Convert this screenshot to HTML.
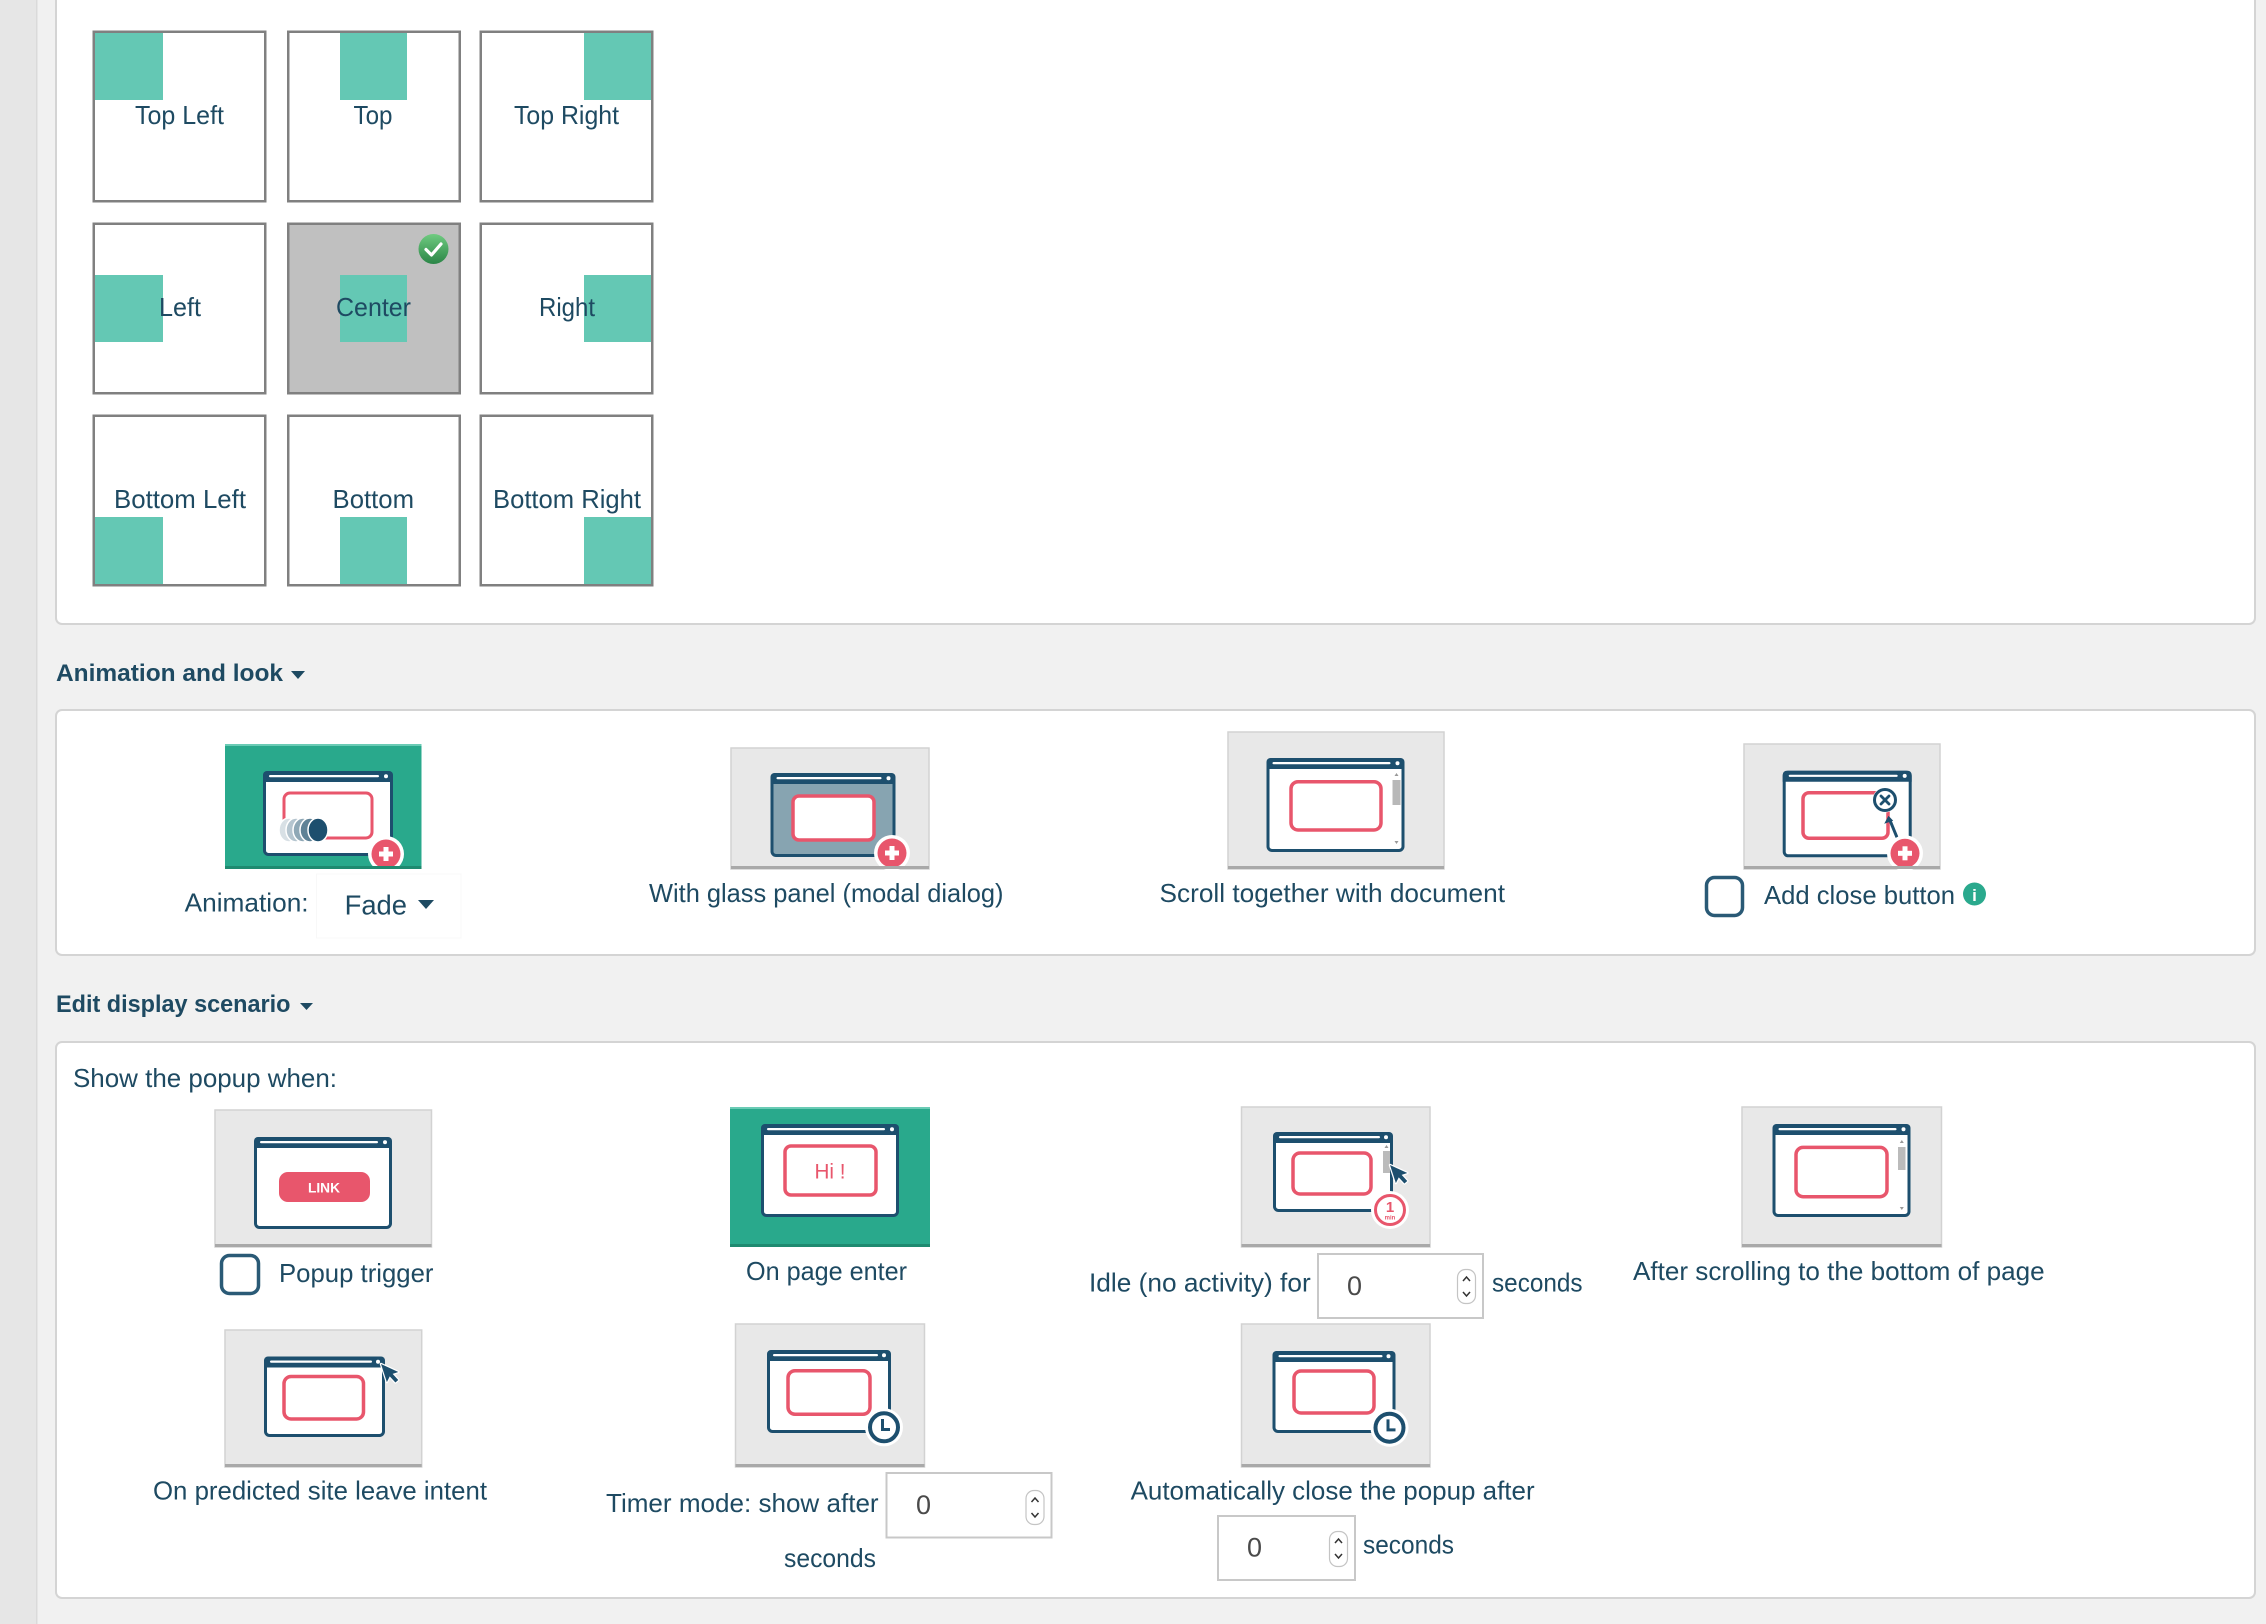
<!DOCTYPE html>
<html>
<head>
<meta charset="utf-8">
<style>
  html,body{margin:0;padding:0;background:#f1f1f1;}
  body{width:2266px;height:1624px;overflow:hidden;}
  svg{display:block;}
  .t{font-family:"Liberation Sans",sans-serif;font-size:26px;fill:#1e4a62;}
  .h{font-family:"Liberation Sans",sans-serif;font-size:24px;font-weight:bold;fill:#1e4a62;}
</style>
</head>
<body>
<svg xmlns="http://www.w3.org/2000/svg" width="2266" height="1624" viewBox="0 0 2266 1624">
  <!-- background -->
  <rect x="0" y="0" width="2266" height="1624" fill="#f1f1f1"/>
  <rect x="0" y="0" width="37" height="1624" fill="#e6e6e6"/>
  <rect x="36" y="0" width="1.5" height="1624" fill="#dadada"/>

  <!-- Panel 1 -->
  <rect x="56" y="-20" width="2199" height="644" rx="6" fill="#fff" stroke="#d4d4d4" stroke-width="2"/>
  <text x="189" y="-5" class="h" style="fill:#1a7ccc">g</text>

  <!-- Grid row 1 -->
  <g>
    <rect x="93.5" y="31.5" width="172" height="170" fill="#fff"/>
    <rect x="95" y="33" width="68" height="67" fill="#64c8b4"/>
    <text x="179.5" y="124" class="t" text-anchor="middle" textLength="89" lengthAdjust="spacingAndGlyphs">Top Left</text>
    <rect x="93.75" y="31.75" width="171.5" height="169.5" fill="none" stroke="#808080" stroke-width="2.5"/>

    <rect x="288" y="31.5" width="172" height="170" fill="#fff"/>
    <rect x="340" y="33" width="67" height="67" fill="#64c8b4"/>
    <text x="373" y="124" class="t" text-anchor="middle" textLength="39" lengthAdjust="spacingAndGlyphs">Top</text>
    <rect x="288.25" y="31.75" width="171.5" height="169.5" fill="none" stroke="#808080" stroke-width="2.5"/>

    <rect x="480.5" y="31.5" width="172" height="170" fill="#fff"/>
    <rect x="584" y="33" width="68" height="67" fill="#64c8b4"/>
    <text x="566.5" y="124" class="t" text-anchor="middle" textLength="105" lengthAdjust="spacingAndGlyphs">Top Right</text>
    <rect x="480.75" y="31.75" width="171.5" height="169.5" fill="none" stroke="#808080" stroke-width="2.5"/>
  </g>
  <!-- Grid row 2 -->
  <g>
    <rect x="93.5" y="223.5" width="172" height="170" fill="#fff"/>
    <rect x="95" y="275" width="68" height="67" fill="#64c8b4"/>
    <text x="180" y="316" class="t" text-anchor="middle" textLength="42" lengthAdjust="spacingAndGlyphs">Left</text>
    <rect x="93.75" y="223.75" width="171.5" height="169.5" fill="none" stroke="#808080" stroke-width="2.5"/>

    <rect x="288" y="223.5" width="172" height="170" fill="#c0c0c0"/>
    <rect x="340" y="275" width="67" height="67" fill="#64c8b4"/>
    <text x="373.5" y="316" class="t" text-anchor="middle" textLength="75" lengthAdjust="spacingAndGlyphs">Center</text>
    <rect x="288.25" y="223.75" width="171.5" height="169.5" fill="none" stroke="#808080" stroke-width="2.5"/>
    <defs>
      <linearGradient id="gck" x1="0" y1="0" x2="0" y2="1">
        <stop offset="0" stop-color="#6fcb80"/>
        <stop offset="1" stop-color="#2b8547"/>
      </linearGradient>
    </defs>
    <circle cx="433.5" cy="249" r="15" fill="url(#gck)"/>
    <path d="M426,249.5 L431.5,255 L441,244" fill="none" stroke="#fff" stroke-width="3.2" stroke-linecap="round" stroke-linejoin="round"/>

    <rect x="480.5" y="223.5" width="172" height="170" fill="#fff"/>
    <rect x="584" y="275" width="68" height="67" fill="#64c8b4"/>
    <text x="567" y="316" class="t" text-anchor="middle" textLength="56" lengthAdjust="spacingAndGlyphs">Right</text>
    <rect x="480.75" y="223.75" width="171.5" height="169.5" fill="none" stroke="#808080" stroke-width="2.5"/>
  </g>
  <!-- Grid row 3 -->
  <g>
    <rect x="93.5" y="415.5" width="172" height="170" fill="#fff"/>
    <rect x="95" y="517" width="68" height="68" fill="#64c8b4"/>
    <text x="180" y="508" class="t" text-anchor="middle" textLength="132" lengthAdjust="spacingAndGlyphs">Bottom Left</text>
    <rect x="93.75" y="415.75" width="171.5" height="169.5" fill="none" stroke="#808080" stroke-width="2.5"/>

    <rect x="288" y="415.5" width="172" height="170" fill="#fff"/>
    <rect x="340" y="517" width="67" height="68" fill="#64c8b4"/>
    <text x="373.3" y="508" class="t" text-anchor="middle" textLength="81.5" lengthAdjust="spacingAndGlyphs">Bottom</text>
    <rect x="288.25" y="415.75" width="171.5" height="169.5" fill="none" stroke="#808080" stroke-width="2.5"/>

    <rect x="480.5" y="415.5" width="172" height="170" fill="#fff"/>
    <rect x="584" y="517" width="68" height="68" fill="#64c8b4"/>
    <text x="567" y="508" class="t" text-anchor="middle" textLength="148" lengthAdjust="spacingAndGlyphs">Bottom Right</text>
    <rect x="480.75" y="415.75" width="171.5" height="169.5" fill="none" stroke="#808080" stroke-width="2.5"/>
  </g>

  <!-- Heading: Animation and look -->
  <text x="56" y="681" class="h" textLength="227" lengthAdjust="spacingAndGlyphs">Animation and look</text>
  <path d="M291,671 L305,671 L298,679 Z" fill="#1e4a62"/>

  <!-- Panel 2 -->
  <rect x="56" y="710" width="2199" height="245" rx="6" fill="#fff" stroke="#d4d4d4" stroke-width="2"/>

  <!-- Icon 1: Animation (teal) -->
  <rect x="225" y="744" width="196.5" height="125" fill="#29a98c"/>
  <rect x="225" y="744" width="196.5" height="2" fill="#6acbb5"/>
  <g transform="translate(263,771)">
    <rect x="1.5" y="1.5" width="127" height="82" rx="4" fill="#fff" stroke="#1d4f6e" stroke-width="3"/>
    <path d="M0,4 a4,4 0 0 1 4,-4 h122 a4,4 0 0 1 4,4 v7 h-130 z" fill="#1d4f6e"/>
    <rect x="6" y="4" width="110" height="2.2" rx="1.1" fill="#fff"/>
    <circle cx="123" cy="5.2" r="2" fill="#fff"/>
    <rect x="21" y="22" width="88" height="45" rx="6" fill="none" stroke="#e8566c" stroke-width="3"/>
    <ellipse cx="26" cy="59" rx="10" ry="12" fill="#d8e0e5" stroke="#fff" stroke-width="1.5"/>
    <ellipse cx="33" cy="59" rx="10" ry="12" fill="#b5c5cf" stroke="#fff" stroke-width="1.5"/>
    <ellipse cx="40" cy="59" rx="10" ry="12" fill="#8fa8b6" stroke="#fff" stroke-width="1.5"/>
    <ellipse cx="47" cy="59" rx="10" ry="12" fill="#5f8296" stroke="#fff" stroke-width="1.5"/>
    <ellipse cx="55" cy="59" rx="10" ry="12" fill="#1d4f6e" stroke="#fff" stroke-width="1.5"/>
  </g>
  <circle cx="386" cy="854" r="18" fill="#fff"/>
  <circle cx="386" cy="854" r="14.5" fill="#e8566c"/>
  <rect x="379" y="851.5" width="14" height="5" fill="#fff"/>
  <rect x="383.5" y="847" width="5" height="14" fill="#fff"/>
  <rect x="225" y="866" width="196.5" height="3" fill="#1f8a70"/>

  <rect x="316.5" y="874" width="144.5" height="64" fill="none" stroke="#f8f8f8" stroke-width="1"/>
  <text x="184.6" y="911.7" class="t" textLength="124" lengthAdjust="spacingAndGlyphs">Animation:</text>
  <text x="344.6" y="914.3" class="t" style="font-size:28px" textLength="62.4" lengthAdjust="spacingAndGlyphs">Fade</text>
  <path d="M418,900 L434,900 L426,909 Z" fill="#1e4a62"/>

  <!-- Icon 2: glass panel -->
  <rect x="731" y="748" width="198" height="121" fill="#e8e8e8" stroke="#d2d2d2" stroke-width="1.5"/>
  <g transform="translate(770.5,773)">
    <rect x="1.5" y="1.5" width="122" height="81" rx="4" fill="#87a4b1" stroke="#1d4f6e" stroke-width="3"/>
    <path d="M0,4 a4,4 0 0 1 4,-4 h117 a4,4 0 0 1 4,4 v7 h-125 z" fill="#1d4f6e"/>
    <rect x="6" y="4" width="105" height="2.2" rx="1.1" fill="#fff"/>
    <circle cx="118" cy="5.2" r="2" fill="#fff"/>
    <rect x="22.5" y="23" width="81" height="44" rx="6" fill="#fff" stroke="#e8566c" stroke-width="3.5"/>
  </g>
  <circle cx="892" cy="853" r="18" fill="#fff"/>
  <circle cx="892" cy="853" r="14.5" fill="#e8566c"/>
  <rect x="885" y="850.5" width="14" height="5" fill="#fff"/>
  <rect x="889.5" y="846" width="5" height="14" fill="#fff"/>
  <rect x="731" y="866" width="198" height="3" fill="#a9a9a9"/>
  <text x="649" y="902" class="t" textLength="354.5" lengthAdjust="spacingAndGlyphs">With glass panel (modal dialog)</text>

  <!-- Icon 3: scroll together -->
  <rect x="1228" y="732" width="216" height="137" fill="#e8e8e8" stroke="#d2d2d2" stroke-width="1.5"/>
  <rect x="1228" y="866" width="216" height="3" fill="#a9a9a9"/>
  <g transform="translate(1266.5,758)">
    <rect x="1.5" y="1.5" width="135" height="91" rx="4" fill="#fff" stroke="#1d4f6e" stroke-width="3"/>
    <path d="M0,4 a4,4 0 0 1 4,-4 h130 a4,4 0 0 1 4,4 v7 h-138 z" fill="#1d4f6e"/>
    <rect x="6" y="4" width="118" height="2.2" rx="1.1" fill="#fff"/>
    <circle cx="131" cy="5.2" r="2" fill="#fff"/>
    <rect x="126" y="22" width="8" height="25" fill="#b8b8b8"/>
    <path d="M128,18 L132,18 L130,15 Z" fill="#999"/>
    <path d="M128,83 L132,83 L130,86 Z" fill="#999"/>
    <rect x="24.5" y="23.7" width="90" height="48.3" rx="7" fill="none" stroke="#e8566c" stroke-width="3.5"/>
  </g>
  <text x="1159.5" y="902" class="t" textLength="345.5" lengthAdjust="spacingAndGlyphs">Scroll together with document</text>

  <!-- Icon 4: close button -->
  <rect x="1744" y="744" width="196" height="125" fill="#e8e8e8" stroke="#d2d2d2" stroke-width="1.5"/>
  <g transform="translate(1782.7,770.7)">
    <rect x="1.5" y="1.5" width="126" height="83.6" rx="4" fill="#fff" stroke="#1d4f6e" stroke-width="3"/>
    <path d="M0,4 a4,4 0 0 1 4,-4 h121 a4,4 0 0 1 4,4 v7 h-129 z" fill="#1d4f6e"/>
    <rect x="6" y="4" width="109" height="2.2" rx="1.1" fill="#fff"/>
    <circle cx="122" cy="5.2" r="2" fill="#fff"/>
    <rect x="20.3" y="22" width="85" height="45.6" rx="6" fill="none" stroke="#e8566c" stroke-width="3.5"/>
    <circle cx="102.3" cy="29.3" r="12.5" fill="#fff"/>
    <circle cx="102.3" cy="29.3" r="10.5" fill="#fff" stroke="#1d4f6e" stroke-width="3"/>
    <path d="M98.3,25.3 L106.3,33.3 M106.3,25.3 L98.3,33.3" stroke="#1d4f6e" stroke-width="2.8" stroke-linecap="round"/>
    <path d="M114,66 L107,49" stroke="#1d4f6e" stroke-width="3" stroke-linecap="round"/>
    <path d="M105.8,45 L101.5,53 L110.5,50 Z" fill="#1d4f6e"/>
  </g>
  <circle cx="1905" cy="853.3" r="18" fill="#fff"/>
  <circle cx="1905" cy="853.3" r="14.5" fill="#e8566c"/>
  <rect x="1898" y="850.8" width="14" height="5" fill="#fff"/>
  <rect x="1902.5" y="846.3" width="5" height="14" fill="#fff"/>
  <rect x="1744" y="866" width="196" height="3" fill="#a9a9a9"/>
  <rect x="1706.5" y="877.5" width="36" height="38" rx="8" fill="#fff" stroke="#2a5a76" stroke-width="3.5"/>
  <text x="1764" y="904" class="t" textLength="191" lengthAdjust="spacingAndGlyphs">Add close button</text>
  <circle cx="1974.5" cy="894" r="11.5" fill="#2aa98d"/>
  <text x="1974.5" y="901" text-anchor="middle" style="font-family:'Liberation Sans',sans-serif;font-size:17px;font-weight:bold;fill:#fff">i</text>

  <!-- Heading: Edit display scenario -->
  <text x="56" y="1012" class="h" textLength="234.5" lengthAdjust="spacingAndGlyphs">Edit display scenario</text>
  <path d="M300,1003 L313,1003 L306.5,1010 Z" fill="#1e4a62"/>

  <!-- Panel 3 -->
  <rect x="56" y="1042" width="2199" height="556" rx="6" fill="#fff" stroke="#d4d4d4" stroke-width="2"/>
  <text x="73" y="1087" class="t" textLength="264" lengthAdjust="spacingAndGlyphs">Show the popup when:</text>

  <!-- A: LINK -->
  <rect x="215" y="1110" width="216.5" height="137" fill="#e8e8e8" stroke="#d2d2d2" stroke-width="1.5"/>
  <rect x="215" y="1244" width="216.5" height="3" fill="#a9a9a9"/>
  <g transform="translate(254,1137)">
    <rect x="1.5" y="1.5" width="135" height="89" rx="4" fill="#fff" stroke="#1d4f6e" stroke-width="3"/>
    <path d="M0,4 a4,4 0 0 1 4,-4 h130 a4,4 0 0 1 4,4 v7 h-138 z" fill="#1d4f6e"/>
    <rect x="6" y="4" width="118" height="2.2" rx="1.1" fill="#fff"/>
    <circle cx="131" cy="5.2" r="2" fill="#fff"/>
    <rect x="25" y="35" width="91" height="30" rx="9" fill="#e8566c"/>
    <text x="70" y="55.5" text-anchor="middle" textLength="32" lengthAdjust="spacingAndGlyphs" style="font-family:'Liberation Sans',sans-serif;font-size:14px;font-weight:bold;fill:#fff">LINK</text>
  </g>
  <rect x="221.5" y="1255.5" width="37" height="38" rx="8" fill="#fff" stroke="#2a5a76" stroke-width="3.5"/>
  <text x="279" y="1282" class="t" textLength="154.5" lengthAdjust="spacingAndGlyphs">Popup trigger</text>

  <!-- B: Hi! (teal) -->
  <rect x="730" y="1107" width="200" height="140" fill="#29a98c"/>
  <rect x="730" y="1107" width="200" height="2" fill="#6acbb5"/>
  <rect x="730" y="1244" width="200" height="3" fill="#1f8a70"/>
  <g transform="translate(761,1124)">
    <rect x="1.5" y="1.5" width="135" height="90" rx="4" fill="#fff" stroke="#1d4f6e" stroke-width="3"/>
    <path d="M0,4 a4,4 0 0 1 4,-4 h130 a4,4 0 0 1 4,4 v7 h-138 z" fill="#1d4f6e"/>
    <rect x="6" y="4" width="118" height="2.2" rx="1.1" fill="#fff"/>
    <circle cx="131" cy="5.2" r="2" fill="#fff"/>
    <rect x="24" y="22" width="91" height="49" rx="6" fill="none" stroke="#e8566c" stroke-width="3.5"/>
    <text x="69" y="54.5" text-anchor="middle" textLength="31" lengthAdjust="spacingAndGlyphs" style="font-family:'Liberation Sans',sans-serif;font-size:21px;fill:#e8566c">Hi !</text>
  </g>
  <text x="746" y="1280" class="t" textLength="161" lengthAdjust="spacingAndGlyphs">On page enter</text>

  <!-- C: Idle -->
  <rect x="1241.5" y="1107" width="188.5" height="140" fill="#e8e8e8" stroke="#d2d2d2" stroke-width="1.5"/>
  <rect x="1241.5" y="1244" width="188.5" height="3" fill="#a9a9a9"/>
  <g transform="translate(1273,1132)">
    <rect x="1.5" y="1.5" width="117" height="77" rx="4" fill="#fff" stroke="#1d4f6e" stroke-width="3"/>
    <path d="M0,4 a4,4 0 0 1 4,-4 h112 a4,4 0 0 1 4,4 v7 h-120 z" fill="#1d4f6e"/>
    <rect x="6" y="4" width="101" height="2.2" rx="1.1" fill="#fff"/>
    <circle cx="113" cy="5.2" r="2" fill="#fff"/>
    <rect x="110" y="19" width="7" height="22" fill="#bbb"/>
    <path d="M111.5,16 L115.5,16 L113.5,13 Z" fill="#999"/>
    <rect x="20" y="21" width="78" height="41" rx="7" fill="none" stroke="#e8566c" stroke-width="3.5"/>
  </g>
  <g transform="translate(1390,1165) rotate(-18)">
    <path d="M0,0 L0,19 L4.5,14.5 L8,22 L11.5,20.5 L8,13 L14,13 Z" fill="#1d4f6e" stroke="#fff" stroke-width="2.5" stroke-linejoin="round" paint-order="stroke"/>
  </g>
  <circle cx="1390" cy="1210" r="19" fill="#fff"/>
  <circle cx="1390" cy="1210" r="14.5" fill="#fff" stroke="#e8566c" stroke-width="3"/>
  <text x="1390" y="1212" text-anchor="middle" style="font-family:'Liberation Sans',sans-serif;font-size:15px;font-weight:bold;fill:#e8566c">1</text>
  <text x="1390" y="1219.5" text-anchor="middle" style="font-family:'Liberation Sans',sans-serif;font-size:6px;font-weight:bold;fill:#e8566c">min</text>

  <text x="1089" y="1291.4" class="t" textLength="221.7" lengthAdjust="spacingAndGlyphs">Idle (no activity) for</text>
  <rect x="1318" y="1254" width="165" height="64" fill="#fff" stroke="#c8c8c8" stroke-width="2"/>
  <text x="1347" y="1295" class="t" style="font-size:27px;fill:#4a4a4a">0</text>
  <rect x="1457.5" y="1269.5" width="18" height="34" rx="8" fill="#fff" stroke="#c4c4c4" stroke-width="1.2"/>
  <path d="M1463,1281 L1466.5,1277 L1470,1281 M1463,1292 L1466.5,1296 L1470,1292" fill="none" stroke="#333" stroke-width="1.5"/>
  <text x="1492" y="1291.4" class="t" textLength="90.6" lengthAdjust="spacingAndGlyphs">seconds</text>

  <!-- D: scroll to bottom -->
  <rect x="1742" y="1107" width="199.5" height="140" fill="#e8e8e8" stroke="#d2d2d2" stroke-width="1.5"/>
  <rect x="1742" y="1244" width="199.5" height="3" fill="#a9a9a9"/>
  <g transform="translate(1772.5,1124)">
    <rect x="1.5" y="1.5" width="135" height="90" rx="4" fill="#fff" stroke="#1d4f6e" stroke-width="3"/>
    <path d="M0,4 a4,4 0 0 1 4,-4 h130 a4,4 0 0 1 4,4 v7 h-138 z" fill="#1d4f6e"/>
    <rect x="6" y="4" width="118" height="2.2" rx="1.1" fill="#fff"/>
    <circle cx="131" cy="5.2" r="2" fill="#fff"/>
    <rect x="125.5" y="23" width="7.5" height="23" fill="#bbb"/>
    <path d="M127.3,19 L131.3,19 L129.3,16 Z" fill="#999"/>
    <path d="M127.3,83 L131.3,83 L129.3,86 Z" fill="#999"/>
    <rect x="23.5" y="23.4" width="91" height="49.3" rx="7" fill="none" stroke="#e8566c" stroke-width="3.5"/>
  </g>
  <text x="1633" y="1280" class="t" textLength="411.6" lengthAdjust="spacingAndGlyphs">After scrolling to the bottom of page</text>

  <!-- E: leave intent -->
  <rect x="225" y="1330" width="196.7" height="137" fill="#e8e8e8" stroke="#d2d2d2" stroke-width="1.5"/>
  <rect x="225" y="1464" width="196.7" height="3" fill="#a9a9a9"/>
  <g transform="translate(264,1356.5)">
    <rect x="1.5" y="1.5" width="118" height="77.5" rx="4" fill="#fff" stroke="#1d4f6e" stroke-width="3"/>
    <path d="M0,4 a4,4 0 0 1 4,-4 h113 a4,4 0 0 1 4,4 v7 h-121 z" fill="#1d4f6e"/>
    <rect x="6" y="4" width="102" height="2.2" rx="1.1" fill="#fff"/>
    <circle cx="114" cy="5.2" r="2" fill="#fff"/>
    <rect x="20" y="20" width="79.5" height="42.5" rx="7" fill="none" stroke="#e8566c" stroke-width="3.5"/>
  </g>
  <g transform="translate(381,1364) rotate(-18)">
    <path d="M0,0 L0,19 L4.5,14.5 L8,22 L11.5,20.5 L8,13 L14,13 Z" fill="#1d4f6e" stroke="#fff" stroke-width="2.5" stroke-linejoin="round" paint-order="stroke"/>
  </g>
  <text x="153" y="1499.7" class="t" textLength="334" lengthAdjust="spacingAndGlyphs">On predicted site leave intent</text>

  <!-- F: timer -->
  <rect x="735.5" y="1324" width="189" height="143" fill="#e8e8e8" stroke="#d2d2d2" stroke-width="1.5"/>
  <rect x="735.5" y="1464" width="189" height="3" fill="#a9a9a9"/>
  <g transform="translate(767,1350)">
    <rect x="1.5" y="1.5" width="121" height="80" rx="4" fill="#fff" stroke="#1d4f6e" stroke-width="3"/>
    <path d="M0,4 a4,4 0 0 1 4,-4 h116 a4,4 0 0 1 4,4 v7 h-124 z" fill="#1d4f6e"/>
    <rect x="6" y="4" width="105" height="2.2" rx="1.1" fill="#fff"/>
    <circle cx="117" cy="5.2" r="2" fill="#fff"/>
    <rect x="21" y="20.7" width="82" height="43.6" rx="7" fill="none" stroke="#e8566c" stroke-width="3.5"/>
  </g>
  <circle cx="884" cy="1427.3" r="19" fill="#fff"/>
  <circle cx="884" cy="1427.3" r="14" fill="#fff" stroke="#1d4f6e" stroke-width="4"/>
  <path d="M882.5,1419 V1429.5 H890" fill="none" stroke="#1d4f6e" stroke-width="3"/>

  <text x="606" y="1512" class="t" textLength="272.6" lengthAdjust="spacingAndGlyphs">Timer mode: show after</text>
  <rect x="886.5" y="1473" width="165" height="64.5" fill="#fff" stroke="#c8c8c8" stroke-width="2"/>
  <text x="916" y="1514" class="t" style="font-size:27px;fill:#4a4a4a">0</text>
  <rect x="1026" y="1490.5" width="18" height="34" rx="8" fill="#fff" stroke="#c4c4c4" stroke-width="1.2"/>
  <path d="M1031.5,1502 L1035,1498 L1038.5,1502 M1031.5,1513 L1035,1517 L1038.5,1513" fill="none" stroke="#333" stroke-width="1.5"/>
  <text x="784" y="1567" class="t" textLength="92" lengthAdjust="spacingAndGlyphs">seconds</text>

  <!-- G: auto close -->
  <rect x="1241.5" y="1324" width="188.5" height="143" fill="#e8e8e8" stroke="#d2d2d2" stroke-width="1.5"/>
  <rect x="1241.5" y="1464" width="188.5" height="3" fill="#a9a9a9"/>
  <g transform="translate(1272.5,1351)">
    <rect x="1.5" y="1.5" width="120" height="79" rx="4" fill="#fff" stroke="#1d4f6e" stroke-width="3"/>
    <path d="M0,4 a4,4 0 0 1 4,-4 h115 a4,4 0 0 1 4,4 v7 h-123 z" fill="#1d4f6e"/>
    <rect x="6" y="4" width="104" height="2.2" rx="1.1" fill="#fff"/>
    <circle cx="116" cy="5.2" r="2" fill="#fff"/>
    <rect x="21.5" y="20" width="80" height="42" rx="7" fill="none" stroke="#e8566c" stroke-width="3.5"/>
  </g>
  <circle cx="1389.5" cy="1427.7" r="19" fill="#fff"/>
  <circle cx="1389.5" cy="1427.7" r="14" fill="#fff" stroke="#1d4f6e" stroke-width="4"/>
  <path d="M1388,1419.4 V1429.9 H1395.5" fill="none" stroke="#1d4f6e" stroke-width="3"/>

  <text x="1130.6" y="1499.7" class="t" textLength="404" lengthAdjust="spacingAndGlyphs">Automatically close the popup after</text>
  <rect x="1218" y="1516" width="137" height="64" fill="#fff" stroke="#c8c8c8" stroke-width="2"/>
  <text x="1247" y="1556.5" class="t" style="font-size:27px;fill:#4a4a4a">0</text>
  <rect x="1329.5" y="1531.5" width="18" height="35" rx="8" fill="#fff" stroke="#c4c4c4" stroke-width="1.2"/>
  <path d="M1335,1543 L1338.5,1539 L1342,1543 M1335,1554 L1338.5,1558 L1342,1554" fill="none" stroke="#333" stroke-width="1.5"/>
  <text x="1363" y="1553.5" class="t" textLength="91" lengthAdjust="spacingAndGlyphs">seconds</text>
</svg>
</body>
</html>
